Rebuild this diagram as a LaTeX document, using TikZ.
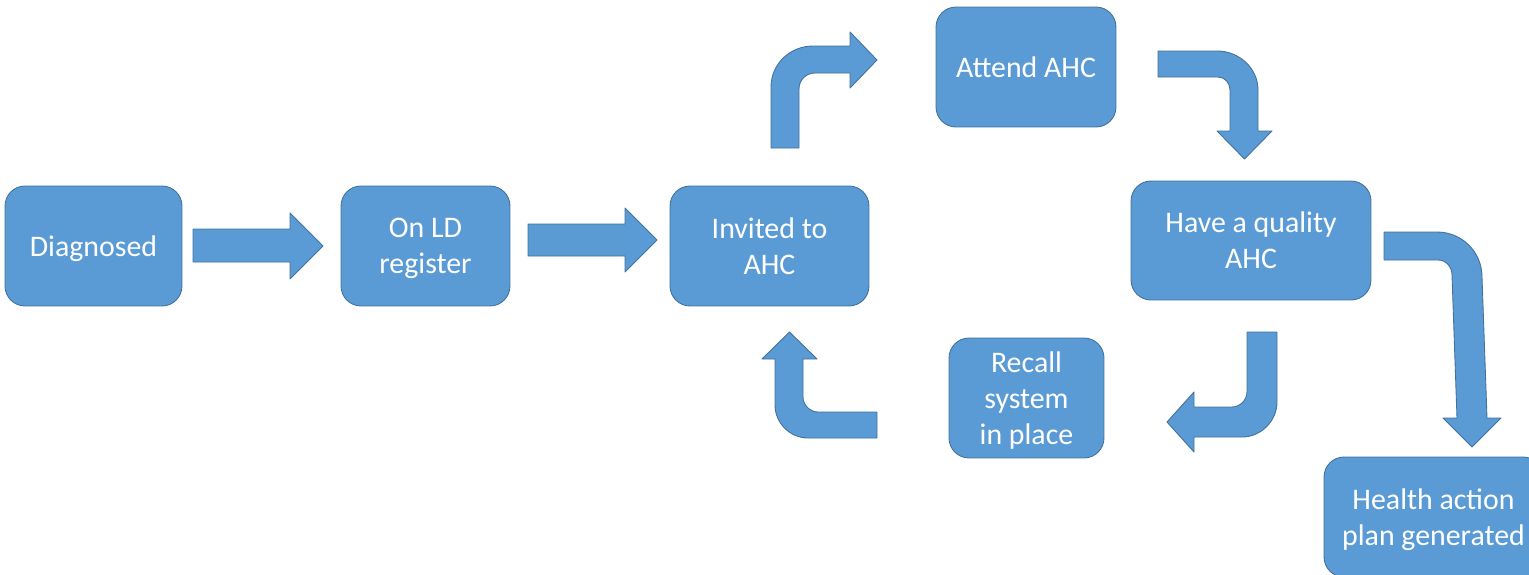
\documentclass[tikz,border=0pt]{standalone}
\usepackage{fontspec}
\setmainfont{Carlito}
\usepackage{tikz}
\usetikzlibrary{calc}

\definecolor{boxblue}{HTML}{5B9BD5}
\definecolor{boxline}{HTML}{41719C}

\tikzset{
    stagebox/.style={draw=boxline, fill=boxblue, line width=0.5pt,
        rounded corners=0.4cm, text=white, align=center, inner sep=0pt,
        font=\fontsize{17}{20.4}\selectfont, text depth=0pt, minimum height=2.4cm},
    blockarrow/.style={draw=boxline, fill=boxblue, line width=0.5pt, line join=round}
}

\begin{document}
\begin{tikzpicture}[x=0.02cm, y=-0.02cm]
    \useasboundingbox (0,0) rectangle (1529,575);
    \clip (0,0) rectangle (1529,575);
    % stages
    \node[stagebox, minimum width=3.54cm] (diag) at (93.5,246) {Diagnosed};
    \node[stagebox, minimum width=3.38cm] (reg) at (425.5,246) {On LD\\register};
    \node[stagebox, minimum width=3.98cm] (inv) at (769.5,246) {Invited to\\AHC};
    \node[stagebox, minimum width=3.6cm] (att) at (1026,67) {Attend AHC};
    \node[stagebox, minimum width=4.8cm, minimum height=2.38cm] (qual) at (1251,240.5) {Have a quality\\AHC};
    \node[stagebox, minimum width=3.1cm] (recall) at (1026.5,398) {Recall\\system\\in place};
    \node[stagebox, minimum width=4.38cm] (hap) at (1433.5,517) {Health action\\plan generated};
    % straight arrows
    \draw[blockarrow] (193,229) -- (290,229) -- (290,213) -- (323,246) -- (290,279) -- (290,262) -- (193,262) -- cycle;
    \draw[blockarrow] (528,224) -- (625,224) -- (625,208) -- (657,240) -- (625,272) -- (625,256) -- (528,256) -- cycle;
    % bent arrows
    \draw[blockarrow] (771,148) -- (771,87) .. controls (771,64) and (790,46) .. (813,46) -- (850,46)
        -- (850,32) -- (877,60) -- (850,88) -- (850,73) -- (815,73)
        .. controls (806,73) and (799,80) .. (799,89) -- (799,148) -- cycle;
    \draw[blockarrow] (1158,51) -- (1217,51) .. controls (1239,51) and (1258,68) .. (1258,90)
        -- (1258,131) -- (1272,131) -- (1244.5,159) -- (1217,131) -- (1230,131) -- (1230,90)
        .. controls (1230,83) and (1225,77) .. (1218,77) -- (1158,77) -- cycle;
    \draw[blockarrow] (1247,332) -- (1277,332) -- (1277,402) .. controls (1277,421) and (1261,437) .. (1242,437)
        -- (1194,437) -- (1194,452) -- (1167,422) -- (1194,392) -- (1194,407) -- (1232,407)
        .. controls (1240,407) and (1247,400) .. (1247,392) -- cycle;
    \draw[blockarrow] (877,412) -- (877,438) -- (808,438) .. controls (790,438) and (775,423) .. (775,405)
        -- (775,359) -- (762,359) -- (789.5,332) -- (817,359) -- (803,359) -- (803,397)
        .. controls (803,405) and (810,412) .. (818,412) -- cycle;
    \draw[blockarrow] (1384,232) -- (1437,232) .. controls (1462,232) and (1482,252) .. (1482,277)
        -- (1487,418) -- (1501,418) -- (1472,447) -- (1443,418) -- (1457,418) -- (1452,275)
        .. controls (1452,267) and (1446,260) .. (1438,260) -- (1384,260) -- cycle;
\end{tikzpicture}
\end{document}
